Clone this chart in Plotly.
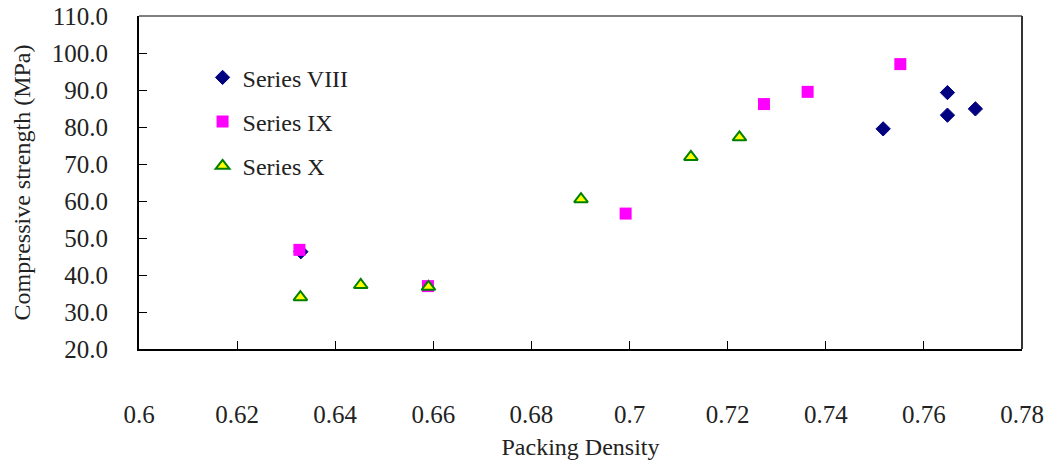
import plotly.graph_objects as go

# Packing density vs. compressive strength for three mix series
s8_density = [0.633, 0.7517, 0.7648, 0.7648, 0.7705]
s8_strength = [46.3, 79.5, 89.3, 83.2, 84.9]

s9_density = [0.6327, 0.6589, 0.6992, 0.7274, 0.7363, 0.7552]
s9_strength = [46.8, 37.0, 56.6, 86.2, 89.5, 97.0]

s10_density = [0.6329, 0.6452, 0.659, 0.6901, 0.7125, 0.7224]
s10_strength = [34.0, 37.3, 36.8, 60.5, 71.9, 77.2]

x_ticks = [0.6, 0.62, 0.64, 0.66, 0.68, 0.7, 0.72, 0.74, 0.76, 0.78]
x_tick_text = ["0.6", "0.62", "0.64", "0.66", "0.68", "0.7", "0.72", "0.74", "0.76", "0.78"]
y_ticks = [20, 30, 40, 50, 60, 70, 80, 90, 100, 110]

FONT = "Liberation Serif, Times New Roman, serif"

fig = go.Figure()
fig.add_trace(go.Scatter(
    x=s8_density, y=s8_strength, mode="markers", name="Series VIII",
    legendgroup="a",
    marker=dict(symbol="diamond", size=11, color="#000080",
                line=dict(color="#000080", width=1)),
))
fig.add_trace(go.Scatter(
    x=s9_density, y=s9_strength, mode="markers", name="Series IX",
    legendgroup="b",
    marker=dict(symbol="square", size=12, color="#FF00FF",
                line=dict(color="#FF00FF", width=0)),
))
fig.add_trace(go.Scatter(
    x=s10_density, y=s10_strength, mode="markers", name="Series X",
    legendgroup="c",
    marker=dict(symbol="triangle-up", size=12, color="#FFFF00",
                line=dict(color="#008000", width=2)),
))

fig.update_layout(
    width=1057, height=466,
    margin=dict(l=139, r=35, t=16, b=117),
    paper_bgcolor="white", plot_bgcolor="white",
    font=dict(family=FONT, size=25, color="#222222"),
    showlegend=True,
    legend=dict(
        x=0.072, y=0.882, xanchor="left", yanchor="top",
        bgcolor="rgba(0,0,0,0)", font=dict(family=FONT, size=24),
        traceorder="grouped", tracegroupgap=10,
        itemwidth=30,
    ),
    xaxis=dict(
        range=[0.6, 0.78], tickvals=x_ticks, ticktext=x_tick_text,
        showgrid=False, zeroline=False, automargin=False,
        showline=True, linecolor="black", linewidth=2,
        ticks="inside", ticklen=8, tickcolor="black",
        ticklabelstandoff=42,
        title=dict(text="Packing Density", font=dict(family=FONT, size=24), standoff=11),
    ),
    yaxis=dict(
        range=[20, 110], tickvals=y_ticks, tickformat=".1f",
        showgrid=False, zeroline=False, automargin=False,
        showline=True, linecolor="black", linewidth=2,
        ticks="inside", ticklen=8, tickcolor="black",
        ticklabelstandoff=24,
        title=dict(text="Compressive strength (MPa)", font=dict(family=FONT, size=24), standoff=14),
    ),
)

# Top and right frame edges
fig.add_shape(type="line", xref="paper", yref="paper", x0=0, x1=1, y0=1, y1=1,
              line=dict(color="#555555", width=1.5))
fig.add_shape(type="line", xref="paper", yref="paper", x0=1, x1=1, y0=0, y1=1,
              line=dict(color="#333333", width=2))

fig.write_html("out.html")
